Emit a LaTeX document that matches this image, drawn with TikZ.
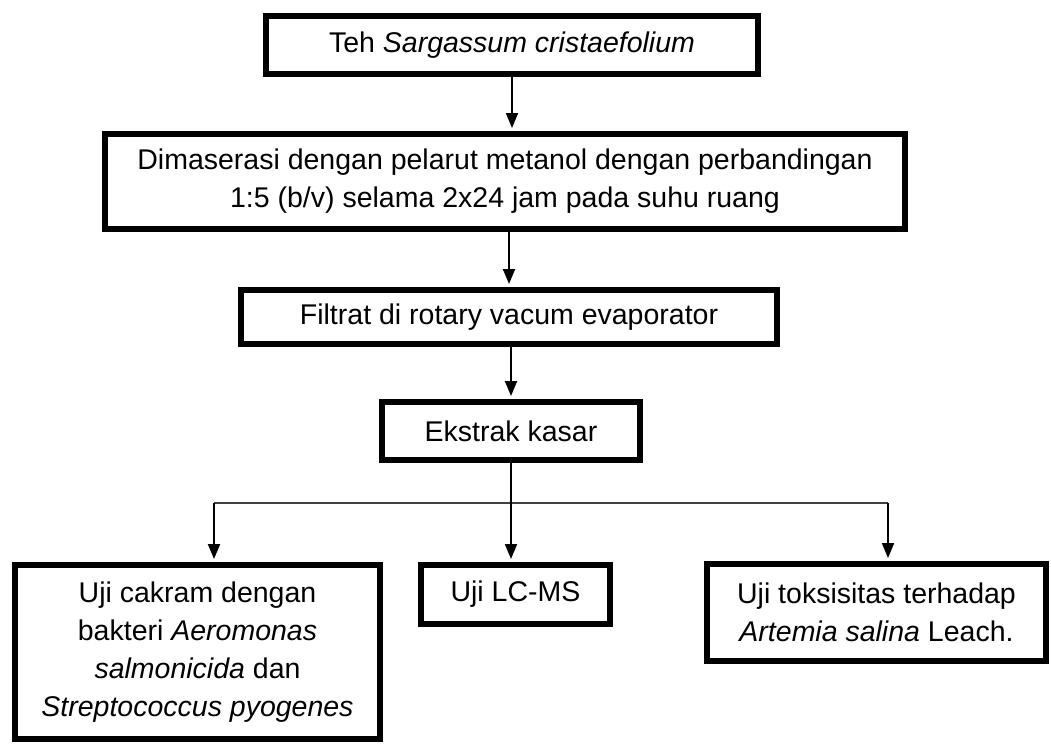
\documentclass[tikz,border=0pt]{standalone}
\usepackage{fontspec}
\setmainfont{Liberation Sans}
\usetikzlibrary{arrows.meta}
\tikzset{
  procbox/.style={draw=black, line width=6pt, fill=white, inner sep=0pt, align=center,
    font=\fontsize{28.5}{38}\selectfont},
  arr/.style={draw=black, line width=2pt, -{Triangle[length=15pt,width=12pt]}, shorten >=3pt},
  branch/.style={draw=black!75, line width=2pt}
}
\begin{document}
\begin{tikzpicture}[x=1pt,y=-1pt]
\useasboundingbox (0,0) rectangle (1051,744);
\fill[white] (0,0) rectangle (1051,744);
% boxes (outer edge - 3pt on each side)
\node[procbox, minimum width=492pt, minimum height=58pt] (top) at (512,45)
  {Teh \textit{Sargassum cristaefolium}};
\node[procbox, minimum width=800pt, minimum height=95pt] (mac) at (505,181.5)
  {Dimaserasi dengan pelarut metanol dengan perbandingan\\1:5 (b/v) selama 2x24 jam pada suhu ruang};
\node[procbox, minimum width=536pt, minimum height=54pt] (fil) at (509,317)
  {Filtrat di rotary vacum evaporator};
\node[procbox, minimum width=258pt, minimum height=58pt] (ext) at (511,431)
  {Ekstrak kasar};
\node[procbox, minimum width=365pt, minimum height=174pt] (cak) at (197.5,652)
  {Uji cakram dengan\\bakteri \textit{Aeromonas}\\\textit{salmonicida} dan\\\textit{Streptococcus pyogenes}};
\node[procbox, minimum width=189pt, minimum height=59pt] (lcms) at (515.5,594.5)
  {Uji LC-MS};
\node[procbox, minimum width=339pt, minimum height=97pt] (tox) at (876.5,612.5)
  {Uji toksisitas terhadap\\\textit{Artemia salina} Leach.};
% connectors
\draw[arr] (top.south) -- (top.south |- mac.north);
\draw[arr] (fil.north |- mac.south) -- (fil.north);
\draw[arr] (ext.north |- fil.south) -- (ext.north);
\coordinate (bl) at (214,503);
\coordinate (br) at (888,503);
\draw[branch] (bl) -- (br);
\draw[arr] (ext.south) -- (ext.south |- lcms.north);
\draw[arr] (bl) -- (bl |- cak.north);
\draw[arr] (br) -- (br |- tox.north);
\end{tikzpicture}
\end{document}
